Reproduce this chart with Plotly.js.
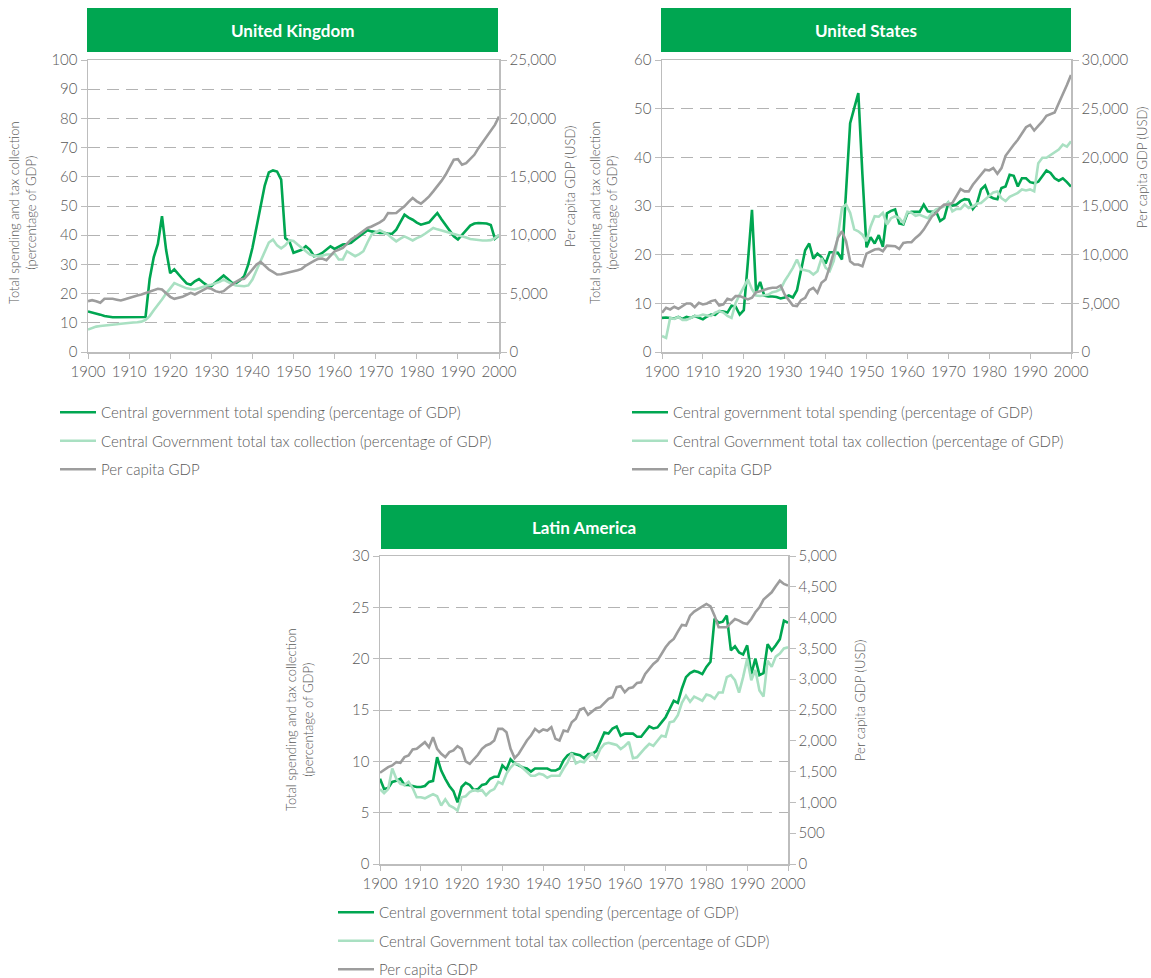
<!DOCTYPE html>
<html><head><meta charset="utf-8">
<script src="https://cdn.plot.ly/plotly-3.0.1.min.js"></script>
<style>html,body{margin:0;padding:0;background:#fff}</style>
</head><body><div id="chart" style="width:1151px;height:978px"></div>
<script>
const years = [1900,1901,1902,1903,1904,1905,1906,1907,1908,1909,1910,1911,1912,1913,1914,1915,1916,1917,1918,1919,
1920,1921,1922,1923,1924,1925,1926,1927,1928,1929,1930,1931,1932,1933,1934,1935,1936,1937,1938,1939,
1940,1941,1942,1943,1944,1945,1946,1947,1948,1949,1950,1951,1952,1953,1954,1955,1956,1957,1958,1959,
1960,1961,1962,1963,1964,1965,1966,1967,1968,1969,1970,1971,1972,1973,1974,1975,1976,1977,1978,1979,
1980,1981,1982,1983,1984,1985,1986,1987,1988,1989,1990,1991,1992,1993,1994,1995,1996,1997,1998,1999,2000];

const ukSpending = [13.9,13.6,13.2,12.8,12.3,12.0,11.9,11.9,11.9,12.0,
12.0,12.0,11.9,11.8,12.0,25.0,32.5,37.0,46.5,35.0,
27.0,28.3,26.5,25.0,23.5,23.0,24.2,25.0,23.8,22.8,
22.6,23.8,25.0,26.2,25.0,23.7,23.6,24.6,26.0,30.0,
35.6,43.0,50.0,57.0,61.5,62.2,61.8,59.0,39.0,37.9,
34.0,34.5,35.0,36.2,35.0,32.8,33.2,33.9,35.0,36.2,
35.3,36.0,36.8,37.0,37.4,38.5,39.6,40.8,41.7,41.3,
41.0,40.8,40.8,40.5,40.5,41.9,44.5,47.0,46.0,45.3,
44.3,43.6,44.0,44.4,46.0,47.6,45.5,43.6,41.5,39.6,
38.5,40.2,42.0,43.3,44.0,44.2,44.1,44.0,43.5,38.8,40.0];
const ukTax = [7.7,8.3,8.7,8.9,9.0,9.1,9.3,9.5,9.7,9.9,
10.0,10.1,10.2,10.4,11.0,12.3,14.3,16.0,18.0,20.0,
22.0,23.6,23.0,22.3,21.8,21.6,21.4,21.8,22.3,22.8,
23.0,23.5,24.0,24.8,24.0,23.3,22.8,22.6,22.5,22.8,
24.8,28.0,31.0,34.5,37.5,38.5,36.5,35.5,36.5,38.3,
38.0,36.8,35.6,34.5,33.4,33.0,32.8,33.0,33.4,33.5,
33.7,31.7,31.7,34.5,33.5,32.8,33.5,34.5,37.5,40.2,
41.0,41.7,41.0,40.2,39.0,37.9,38.8,39.6,38.9,38.2,
39.0,39.6,40.5,41.5,42.5,42.0,41.6,41.3,40.8,40.5,
40.2,39.7,39.2,38.7,38.5,38.3,38.2,38.2,38.3,39.0,40.1];
const ukGdp = [4356,4441,4350,4214,4555,4580,4555,4480,4413,4520,
4640,4740,4830,4925,5050,5210,5330,5409,5352,5068,
4726,4555,4640,4726,4900,5068,4925,5125,5300,5495,
5409,5210,5125,5210,5500,5779,6000,6206,6263,6634,
7061,7488,7715,7402,7061,6850,6634,6650,6719,6820,
6918,7000,7118,7400,7630,7800,7972,8000,7850,8200,
8626,8750,8911,9250,9623,9850,10107,10350,10620,10750,
10904,11100,11331,11901,11880,11901,12200,12470,12850,13182,
12900,12698,13000,13324,13750,14178,14650,15175,15800,16456,
16513,16029,16171,16500,16883,17452,17950,18449,18950,19445,20157];

const usSpending = [7.0,7.1,7.0,6.9,7.2,6.8,7.2,7.0,7.4,7.1,
6.7,7.3,7.7,7.6,8.4,8.3,8.1,9.5,9.3,7.7,
8.6,18.5,29.2,12.4,14.4,11.6,11.4,11.4,11.3,11.0,
11.2,11.6,11.2,12.7,17.0,20.9,22.3,19.2,20.2,19.5,
18.2,20.5,20.5,20.4,19.0,33.4,47.0,50.1,53.2,36.5,
21.5,23.6,22.3,24.0,21.6,28.5,29.0,29.3,26.4,26.2,
28.5,28.8,28.8,28.8,30.3,28.9,28.8,28.9,26.9,27.5,
30.6,30.1,30.3,31.0,31.4,31.3,29.4,30.5,33.4,34.2,
32.0,31.6,31.4,33.7,34.0,36.4,36.2,34.0,35.7,35.7,
34.9,34.7,35.0,36.2,37.3,36.8,35.7,35.2,35.7,34.9,34.0];
const usTax = [3.3,2.9,7.0,6.8,7.2,6.6,6.6,7.0,7.4,7.4,
7.7,7.5,7.4,8.1,8.4,8.1,7.4,7.0,10.1,11.8,
13.4,14.9,12.9,11.6,11.5,11.6,11.8,12.3,12.5,12.9,
14.6,15.9,17.3,19.0,17.0,16.8,16.6,15.9,16.6,19.3,
17.3,16.6,18.7,23.8,29.6,30.3,28.6,25.2,24.8,24.1,
22.8,25.8,27.9,27.8,28.6,26.2,27.5,27.9,27.5,26.5,
28.8,28.6,28.0,28.2,27.9,27.5,28.6,29.3,29.6,29.9,
30.8,28.9,29.4,29.4,30.3,29.6,29.9,30.5,30.6,31.3,
32.0,32.8,33.0,31.6,31.0,31.9,32.3,32.7,33.4,33.2,
33.4,33.0,38.8,39.9,39.9,40.5,41.0,41.6,42.6,42.2,43.3];
const usGdp = [4032,4545,4374,4647,4442,4715,4989,4989,4613,5057,
4886,4989,5228,5331,4784,4886,5467,5331,5741,5741,
5570,5399,5570,6151,6253,6424,6526,6595,6595,6834,
5911,5331,4784,4715,5331,5570,6356,6595,6082,7107,
7449,8748,10354,11720,12404,11379,9328,8987,8987,8816,
10114,10354,10524,10593,10354,10934,10934,10866,10593,11208,
11276,11276,11720,12062,12575,13258,13941,14283,14796,15137,
15137,15308,15992,16743,16504,16504,17187,17700,18315,18725,
18657,18896,18315,18896,20160,20775,21288,21800,22484,23099,
23338,22757,23236,23680,24261,24466,24603,25559,26414,27439,28464];

const laSpending = [8.3,7.3,7.4,8.0,8.1,8.3,7.7,7.7,7.6,7.5,
7.5,7.6,8.0,8.1,10.4,9.1,8.3,7.6,7.1,6.0,
7.5,7.9,7.7,7.2,7.3,7.7,7.8,8.3,8.5,8.5,
9.6,9.2,10.2,9.8,9.6,9.4,9.3,9.0,9.3,9.3,
9.3,9.3,9.1,9.1,9.3,10.1,10.6,10.8,10.7,10.6,
10.3,10.7,10.7,11.0,11.9,12.8,12.7,13.2,13.4,12.5,
12.7,12.7,12.7,12.4,12.4,12.9,13.4,13.2,13.3,13.8,
14.3,15.1,15.9,15.7,17.1,18.2,18.6,18.8,18.7,18.5,
19.2,19.7,23.9,23.5,23.6,24.2,20.8,21.2,20.6,20.4,
21.3,18.5,20.0,18.4,18.6,21.4,20.8,21.3,21.9,23.7,23.5];
const laTax = [7.3,6.9,7.3,9.3,8.3,7.8,7.7,8.0,7.4,6.5,
6.5,6.4,6.6,6.8,6.6,5.7,6.3,5.7,5.5,5.2,
6.5,6.6,7.0,7.2,7.1,7.2,6.7,7.1,7.3,8.0,
7.8,8.8,9.4,9.8,9.7,9.3,9.0,8.6,8.6,8.8,
8.7,8.4,8.6,8.6,8.6,9.3,9.9,10.8,9.8,10.0,
9.9,10.4,10.8,10.3,11.2,11.7,11.8,11.7,11.6,11.2,
11.5,11.9,10.3,10.4,10.9,11.3,11.7,11.5,12.0,12.5,
12.4,13.8,13.9,14.5,15.7,16.4,15.8,16.3,16.1,15.9,
16.5,16.4,16.1,16.7,16.7,18.2,18.4,17.9,16.7,18.2,
20.0,17.9,18.9,16.9,16.3,19.8,19.2,20.2,20.5,21.0,21.1];
const laGdp = [1481,1530,1573,1600,1654,1643,1735,1762,1859,1870,
1924,1978,1897,2059,1870,1789,1735,1816,1843,1913,
1870,1665,1627,1697,1773,1870,1924,1951,2005,2194,
2194,2140,1870,1719,1789,1897,2005,2086,2194,2140,
2184,2167,2221,2032,2005,2167,2151,2302,2357,2508,
2530,2421,2475,2530,2546,2611,2681,2708,2870,2886,
2789,2854,2870,2940,2951,3086,3167,3248,3302,3411,
3519,3600,3654,3773,3881,3870,4032,4097,4140,4183,
4221,4183,4032,3843,3843,3843,3913,3978,3951,3913,
3897,3978,4086,4167,4292,4346,4410,4508,4600,4546,4519];

const seriesNames = ['Central government total spending (percentage of GDP)',
  'Central Government total tax collection (percentage of GDP)', 'Per capita GDP'];
const panelTitles = ['United Kingdom', 'United States', 'Latin America'];
const leftTitle = 'Total spending and tax collection<br>(percentage of GDP)';
const rightTitle = 'Per capita GDP (USD)';

const W = 1151, H = 978;
const px = x => x / W, py = y => 1 - y / H;
const FONT = 'Lato, "Open Sans", sans-serif';
const TXT = '#595959';
const AX = '#bdbdbd';
const COLORS = ['#00a651', '#a9e0c2', '#9d9d9d'];

function mk(x, y, name, xa, ya, legend, color) {
  return {x, y, name, type: 'scatter', mode: 'lines', xaxis: xa, yaxis: ya, legend,
    legendgroup: legend + name, line: {color, width: 2.6}, hoverinfo: 'skip'};
}
const data = [
  mk(years, ukSpending, seriesNames[0], 'x', 'y', 'legend', COLORS[0]),
  mk(years, ukTax, seriesNames[1], 'x', 'y', 'legend', COLORS[1]),
  mk(years, ukGdp, seriesNames[2], 'x', 'y2', 'legend', COLORS[2]),
  mk(years, usSpending, seriesNames[0], 'x2', 'y3', 'legend2', COLORS[0]),
  mk(years, usTax, seriesNames[1], 'x2', 'y3', 'legend2', COLORS[1]),
  mk(years, usGdp, seriesNames[2], 'x2', 'y4', 'legend2', COLORS[2]),
  mk(years, laSpending, seriesNames[0], 'x3', 'y5', 'legend3', COLORS[0]),
  mk(years, laTax, seriesNames[1], 'x3', 'y5', 'legend3', COLORS[1]),
  mk(years, laGdp, seriesNames[2], 'x3', 'y6', 'legend3', COLORS[2])
];

const tickfont = {family: FONT, size: 15, color: TXT, weight: 300};
function xAx(d0, d1, anchor) {
  return {domain: [px(d0), px(d1)], anchor, range: [1900, 2000], tick0: 1900, dtick: 10,
    ticks: 'outside', ticklen: 5, tickcolor: AX, tickwidth: 1, showline: true, linecolor: AX,
    linewidth: 1.5, mirror: true, showgrid: false, zeroline: false, tickfont, fixedrange: true};
}
function yAx(t0, t1, anchor, max, dtick) {
  return {domain: [py(t1), py(t0)], anchor, range: [0, max], dtick, tick0: 0,
    ticks: 'outside', ticklen: 6, tickcolor: AX, showline: true, linecolor: AX, linewidth: 1.5,
    showgrid: true, gridcolor: '#b3b3b3', gridwidth: 1, griddash: '12px,7px', zeroline: false,
    tickfont, fixedrange: true};
}
function yAxR(overlay, anchor, max, dtick, minor) {
  const a = {overlaying: overlay, side: 'right', anchor, range: [0, max], dtick, tick0: 0,
    tickformat: ',', ticks: 'outside', ticklen: 6, tickcolor: AX, showline: true, linecolor: AX,
    linewidth: 1.5, showgrid: false, zeroline: false, tickfont, fixedrange: true};
  if (minor) a.minor = {dtick: minor, ticks: 'outside', ticklen: 5, tickcolor: AX, showgrid: false};
  return a;
}
const legFont = {family: FONT, size: 15, color: TXT, weight: 300};
function leg(x, y) {
  return {x: px(x), y: py(y), xanchor: 'left', yanchor: 'top', bgcolor: 'rgba(0,0,0,0)',
    font: legFont, tracegroupgap: 6, borderwidth: 0, itemwidth: 36};
}
const banners = [[87, 498, 8, 52], [661, 1071, 8, 52], [381, 787, 505, 549]];
const shapes = banners.map(b => ({type: 'rect', xref: 'paper', yref: 'paper',
  x0: px(b[0]), x1: px(b[1]), y0: py(b[3]), y1: py(b[2]), fillcolor: '#00a651', line: {width: 0}, layer: 'below'}));
const annotations = banners.map((b, i) => ({xref: 'paper', yref: 'paper', x: px((b[0] + b[1]) / 2),
  y: py((b[2] + b[3]) / 2), text: '<b>' + panelTitles[i] + '</b>', showarrow: false,
  xanchor: 'center', yanchor: 'middle', font: {family: FONT, size: 17, color: '#ffffff'}}));
const axTitleFont = {family: FONT, size: 13, color: TXT, weight: 300};
[[23, 213, leftTitle], [604, 213, leftTitle], [299, 720, leftTitle],
 [570, 187, rightTitle], [1142, 168, rightTitle], [860, 700, rightTitle]].forEach(t => {
  annotations.push({xref: 'paper', yref: 'paper', x: px(t[0]), y: py(t[1]), text: t[2],
    showarrow: false, textangle: -90, xanchor: 'center', yanchor: 'middle', font: axTitleFont});
});

const layout = {
  width: W, height: H, margin: {l: 0, r: 0, t: 0, b: 0, autoexpand: false},
  paper_bgcolor: '#fff', plot_bgcolor: '#fff',
  font: {family: FONT, color: TXT},
  showlegend: true,
  xaxis: xAx(88, 499, 'y'), yaxis: yAx(60, 352, 'x', 100, 10), yaxis2: yAxR('y', 'x', 25000, 5000, 2500),
  xaxis2: xAx(662, 1071, 'y3'), yaxis3: yAx(60, 352, 'x2', 60, 10), yaxis4: yAxR('y3', 'x2', 30000, 5000),
  xaxis3: xAx(380, 788, 'y5'), yaxis5: yAx(556, 864, 'x3', 30, 5), yaxis6: yAxR('y5', 'x3', 5000, 500),
  legend: leg(55, 396), legend2: leg(627, 396), legend3: leg(333, 896),
  shapes, annotations
};
Plotly.newPlot('chart', data, layout, {displayModeBar: false, staticPlot: true});
</script></body></html>
